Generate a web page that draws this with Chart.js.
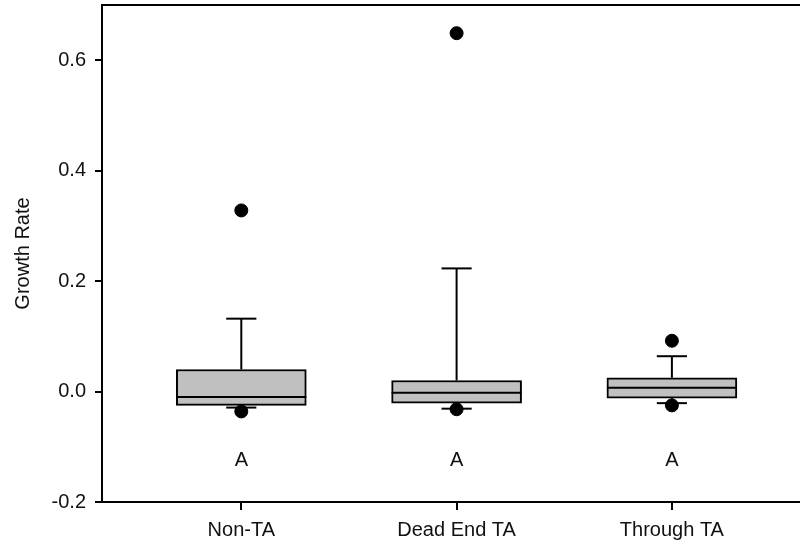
<!DOCTYPE html>
<html>
<head>
<meta charset="utf-8">
<script src="https://cdn.jsdelivr.net/npm/chart.js@4.4.1/dist/chart.umd.min.js"></script>
<style>
  html, body { margin: 0; padding: 0; background: #fff; }
  #wrap { width: 800px; height: 544px; }
</style>
</head>
<body>
<div id="wrap"><canvas id="c" width="800" height="544"></canvas></div>
<script>
// Growth rate by site type: box = 25th-75th percentile, line = median,
// whiskers = 10th/90th percentiles, dots = 5th/95th percentiles.
const categories = ['Non-TA', 'Dead End TA', 'Through TA'];
const q1Values      = [-0.025, -0.021, -0.012];
const medianValues  = [-0.010, -0.002, 0.007];
const q3Values      = [0.040, 0.020, 0.025];
const whiskerLow    = [-0.029, -0.031, -0.021];
const whiskerHigh   = [0.132, 0.223, 0.064];
const outlierLow    = [-0.036, -0.032, -0.025];
const outlierHigh   = [0.328, 0.649, 0.092];
const groupLetters  = ['A', 'A', 'A'];
const letterLevel   = -0.125;
const yTicks        = [-0.2, 0.0, 0.2, 0.4, 0.6];

const BOX_HALF = 0.302;   // half box width, in category units
const CAP_HALF = 0.07;    // half whisker-cap width, in category units
const FONT = 'Arial, "Liberation Sans", sans-serif';
const FONT_SIZE = 20;

const pos = categories.map((_, i) => i + 1);

function seg(x1, y1, x2, y2) {
  return {
    type: 'line',
    data: [{ x: x1, y: y1 }, { x: x2, y: y2 }],
    borderColor: '#000',
    borderWidth: 2,
    pointRadius: 0,
    fill: false,
    order: 2
  };
}

const datasets = [];

// boxes
datasets.push({
  type: 'bar',
  data: pos.map((x, i) => ({ x: x, y: [q1Values[i], q3Values[i]] })),
  backgroundColor: '#c0c0c0',
  borderColor: '#000',
  borderWidth: 2,
  borderSkipped: false,
  barThickness: 130,
  order: 3
});

// medians, whiskers and caps
pos.forEach((x, i) => {
  datasets.push(seg(x - BOX_HALF, medianValues[i], x + BOX_HALF, medianValues[i]));
  datasets.push(seg(x, q3Values[i], x, whiskerHigh[i]));
  datasets.push(seg(x - CAP_HALF, whiskerHigh[i], x + CAP_HALF, whiskerHigh[i]));
  datasets.push(seg(x, q1Values[i], x, whiskerLow[i]));
  datasets.push(seg(x - CAP_HALF, whiskerLow[i], x + CAP_HALF, whiskerLow[i]));
});

// extreme points
datasets.push({
  type: 'scatter',
  data: pos.flatMap((x, i) => [{ x: x, y: outlierLow[i] }, { x: x, y: outlierHigh[i] }]),
  backgroundColor: '#000',
  borderColor: '#000',
  pointRadius: 6.5,
  pointHoverRadius: 6.5,
  order: 1
});

// group letters and the top frame line
const extras = {
  id: 'extras',
  afterDatasetsDraw(chart) {
    const { ctx, chartArea, scales } = chart;
    ctx.save();
    ctx.fillStyle = '#111';
    ctx.font = FONT_SIZE + 'px ' + FONT;
    ctx.textAlign = 'center';
    ctx.textBaseline = 'middle';
    groupLetters.forEach((t, i) => {
      ctx.fillText(t, scales.x.getPixelForValue(pos[i]), scales.y.getPixelForValue(letterLevel));
    });
    ctx.strokeStyle = '#000';
    ctx.lineWidth = 2;
    ctx.beginPath();
    ctx.moveTo(chartArea.left, chartArea.top);
    ctx.lineTo(chartArea.right, chartArea.top);
    ctx.stroke();
    ctx.restore();
  }
};

new Chart(document.getElementById('c'), {
  type: 'bar',
  data: { datasets },
  plugins: [extras],
  options: {
    responsive: false,
    animation: false,
    events: [],
    layout: { autoPadding: false, padding: { top: 5, right: 0, left: 0, bottom: 0 } },
    plugins: { legend: { display: false }, tooltip: { enabled: false } },
    scales: {
      x: {
        type: 'linear',
        min: 0.353,
        max: 3.595,
        offset: false,
        afterBuildTicks(scale) { scale.ticks = pos.map(v => ({ value: v })); },
        afterFit(scale) { scale.height = 42; scale.paddingLeft = 0; scale.paddingRight = 0; },
        ticks: {
          autoSkip: false,
          maxRotation: 0,
          padding: 8,
          color: '#111',
          font: { family: FONT, size: FONT_SIZE },
          callback: (v) => categories[Math.round(v) - 1] || ''
        },
        grid: { display: true, offset: false, drawOnChartArea: false, drawTicks: true, tickLength: 8, color: '#000', lineWidth: 2 },
        border: { display: true, color: '#000', width: 2 }
      },
      y: {
        type: 'linear',
        min: -0.2,
        max: 0.7,
        afterBuildTicks(scale) { scale.ticks = yTicks.map(v => ({ value: v })); },
        afterFit(scale) { scale.width = 102; scale.paddingTop = 0; scale.paddingBottom = 0; },
        ticks: {
          padding: 9,
          color: '#111',
          font: { family: FONT, size: FONT_SIZE },
          callback: (v) => Number(v).toFixed(1)
        },
        grid: { display: true, offset: false, drawOnChartArea: false, drawTicks: true, tickLength: 7, color: '#000', lineWidth: 2 },
        border: { display: true, color: '#000', width: 2 },
        title: {
          display: true,
          text: 'Growth Rate',
          color: '#111',
          font: { family: FONT, size: FONT_SIZE },
          padding: { top: 11, bottom: 0 }
        }
      }
    }
  }
});
</script>
</body>
</html>
